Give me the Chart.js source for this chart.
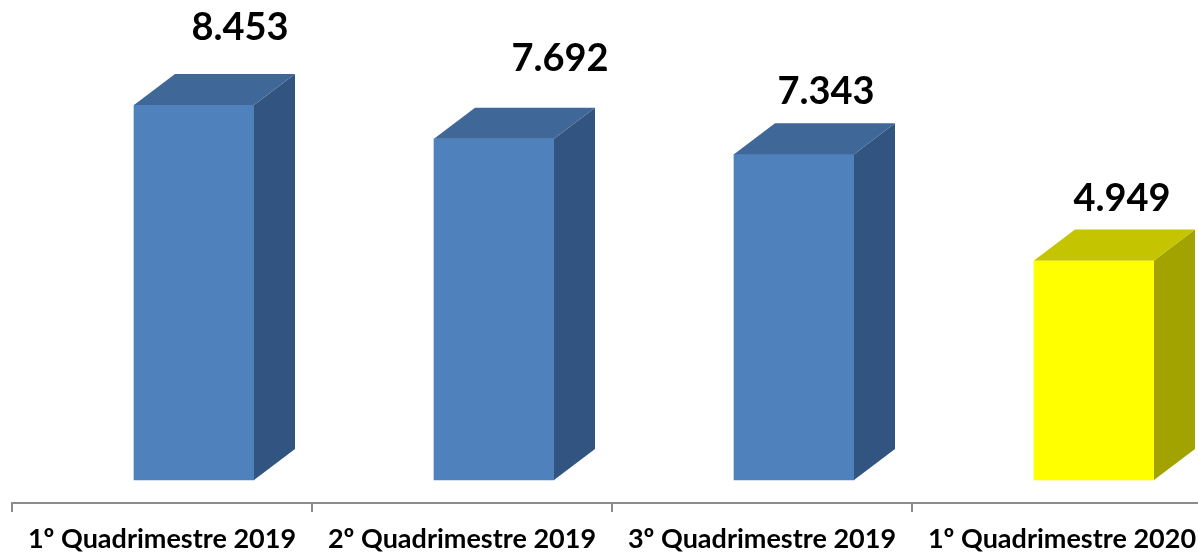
<!DOCTYPE html>
<html><head><meta charset="utf-8">
<style>html,body{margin:0;padding:0;background:#fff;overflow:hidden;width:1198px;height:555px}canvas{display:block}</style>
<script src="https://cdn.jsdelivr.net/npm/chart.js@4"></script></head>
<body><canvas id="c" width="1212" height="555"></canvas>
<script>
const categories = ["1º Quadrimestre 2019","2º Quadrimestre 2019","3º Quadrimestre 2019","1º Quadrimestre 2020"];
const values = [8453,7692,7343,4949];
const valueLabels = ["8.453","7.692","7.343","4.949"];
const frontColors = ["#4F81BD","#4F81BD","#4F81BD","#FFFF00"];
const topColors = ["#3F6797","#3F6797","#3F6797","#C4C400"];
const sideColors = ["#325480","#325480","#325480","#A3A300"];
const labelShiftX = [46,66,32,28];
const labelShiftY = [-77,-80,-63,-62];
const DX = 41, DY = -31, BAR_SHIFT = 32;
const box3d = {
  id:'box3d',
  afterDatasetsUpdate(chart){
    chart.getDatasetMeta(0).data.forEach(b=>{b.x+=BAR_SHIFT;});
  },
  afterDatasetsDraw(chart){
    const ctx = chart.ctx;
    chart.getDatasetMeta(0).data.forEach((b,i)=>{
      const l=b.x-b.width/2, r=b.x+b.width/2, t=b.y, bt=b.base;
      ctx.fillStyle=sideColors[i];
      ctx.beginPath();ctx.moveTo(r,t);ctx.lineTo(r+DX,t+DY);ctx.lineTo(r+DX,bt+DY);ctx.lineTo(r,bt);ctx.closePath();ctx.fill();
      ctx.fillStyle=topColors[i];
      ctx.beginPath();ctx.moveTo(l,t);ctx.lineTo(l+DX,t+DY);ctx.lineTo(r+DX,t+DY);ctx.lineTo(r,t);ctx.closePath();ctx.fill();
      ctx.fillStyle='#000';
      ctx.font='bold 38px Lato';
      ctx.textAlign='center';ctx.textBaseline='middle';
      ctx.fillText(valueLabels[i],b.x+labelShiftX[i],t+labelShiftY[i]);
    });
  }
};
new Chart(document.getElementById('c'),{
  type:'bar',
  data:{labels:categories,datasets:[{data:values,backgroundColor:frontColors,barThickness:120,borderWidth:0}]},
  plugins:[box3d],
  options:{
    responsive:false,animation:false,
    layout:{padding:{left:12,right:0,top:0,bottom:0}},
    plugins:{legend:{display:false},title:{display:false},tooltip:{enabled:false}},
    scales:{
      y:{display:false,min:-518,max:10820},
      x:{
        offset:true,
        afterFit(s){s.height=52;},
        border:{display:true,color:'#8C8C8C',width:2},
        grid:{display:true,offset:true,drawOnChartArea:false,drawTicks:true,tickLength:9,color:'#8C8C8C',lineWidth:2},
        ticks:{autoSkip:false,maxRotation:0,minRotation:0,color:'#000',padding:11,font:{family:'Lato',weight:'bold',size:27}}
      }
    }
  }
});
</script></body></html>
